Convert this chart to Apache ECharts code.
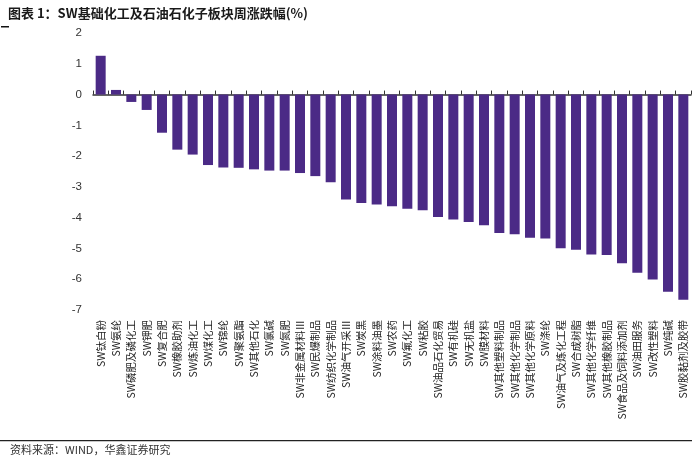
<!DOCTYPE html>
<html>
<head>
<meta charset="utf-8">
<script src="https://cdn.jsdelivr.net/npm/echarts@6/dist/echarts.min.js"></script>
<style>
html,body{margin:0;padding:0;background:#fff;}
#c{width:700px;height:458px;}
</style>
</head>
<body>
<div id="c"></div>
<script>
const categories = ["SW钛白粉","SW氨纶","SW磷肥及磷化工","SW钾肥","SW复合肥","SW橡胶助剂","SW炼油化工","SW煤化工","SW锦纶","SW聚氨酯","SW其他石化","SW氯碱","SW氮肥","SW非金属材料Ⅲ","SW民爆制品","SW纺织化学制品","SW油气开采Ⅲ","SW炭黑","SW涂料油墨","SW农药","SW氟化工","SW粘胶","SW油品石化贸易","SW有机硅","SW无机盐","SW膜材料","SW其他塑料制品","SW其他化学制品","SW其他化学原料","SW涤纶","SW油气及炼化工程","SW合成树脂","SW其他化学纤维","SW其他橡胶制品","SW食品及饲料添加剂","SW油田服务","SW改性塑料","SW纯碱","SW胶黏剂及胶带"];
const values = [1.26,0.15,-0.24,-0.50,-1.24,-1.79,-1.95,-2.29,-2.37,-2.38,-2.43,-2.47,-2.47,-2.55,-2.65,-2.85,-3.41,-3.52,-3.57,-3.63,-3.71,-3.76,-3.98,-4.06,-4.14,-4.25,-4.50,-4.54,-4.65,-4.68,-4.99,-5.04,-5.20,-5.21,-5.48,-5.79,-6.01,-6.41,-6.67];
const titleText = "图表 1：SW基础化工及石油石化子板块周涨跌幅(%)";
const sourceText = "资料来源：WIND，华鑫证券研究";
const yMin = -7, yMax = 2, yInterval = 1;

const chart = echarts.init(document.getElementById('c'), null, {renderer:'canvas'});
const font = '"Noto Sans CJK SC", "Liberation Sans", sans-serif';
chart.setOption({
  animation:false,
  backgroundColor:'#fff',
  textStyle:{fontFamily:font},
  title:{
    text:titleText, left:3, top:2,
    textStyle:{fontSize:13, fontWeight:'bold', color:'#1a1a1a', fontFamily:font}
  },
  graphic:[
    {type:'rect', left:1, top:26, shape:{width:8,height:1.5}, style:{fill:'#111'}},
    {type:'rect', left:0, top:440, shape:{width:692,height:1.2}, style:{fill:'#222'}},
    {type:'text', left:10, top:444, style:{text:sourceText, fontSize:11, fill:'#333', fontFamily:font}}
  ],
  grid:{left:93, right:9, top:33, bottom:148, containLabel:false},
  xAxis:[
    {type:'category', data:categories, position:'bottom',
     axisLine:{onZero:true, lineStyle:{color:'#333', width:1.5}},
     axisTick:{show:true, inside:true, length:4, interval:0, lineStyle:{color:'#333'}},
     axisLabel:{show:false}, splitLine:{show:false}},
    {type:'category', data:categories, position:'bottom',
     axisLine:{show:false, onZero:false}, axisTick:{show:false},
     axisLabel:{show:true, rotate:90, interval:0, margin:10, fontSize:10.5, color:'#222', fontFamily:font},
     splitLine:{show:false}}
  ],
  yAxis:{
    type:'value', min:yMin, max:yMax, interval:yInterval,
    axisLine:{show:false}, axisTick:{show:false}, splitLine:{show:false},
    axisLabel:{fontSize:11.5, color:'#333', margin:11, fontFamily:'"Liberation Sans", Arial, sans-serif'}
  },
  series:[{
    type:'bar', data:values, xAxisIndex:0, barWidth:10,
    itemStyle:{color:'#4b2a86'}
  }]
});
</script>
</body>
</html>
